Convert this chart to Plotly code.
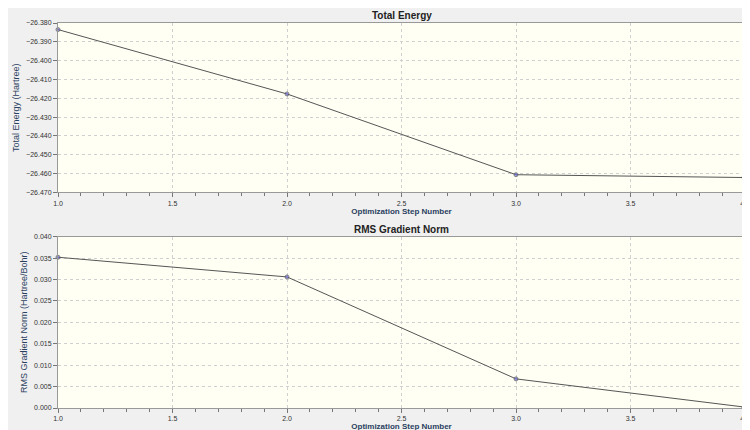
import plotly.graph_objects as go
from plotly.subplots import make_subplots

steps = [1, 2, 3, 4]
energy = [-26.3835, -26.4177, -26.4606, -26.4621]
rms = [0.0352, 0.0306, 0.0068, 0.0002]

fig = make_subplots(rows=2, cols=1, vertical_spacing=0.1)
mcol = ["#7070e0", "#7070e0", "#7070e0", "#d04060"]
for r, y in ((1, energy), (2, rms)):
    fig.add_trace(go.Scatter(x=steps, y=y, mode="lines+markers", cliponaxis=False,
        line=dict(color="#555555", width=1), marker=dict(color=mcol, size=[4, 4, 4, 6])), r, 1)

ax = dict(showgrid=True, gridcolor="#d0d0d0", griddash="dot", showline=True, linecolor="#999999",
          mirror=True, ticks="outside", tickcolor="#777777", ticklen=4, zeroline=False,
          tickfont=dict(size=7, family="Liberation Sans", color="#333333"))
xax = dict(ax, range=[1, 4], tickvals=[1, 1.5, 2, 2.5, 3, 3.5, 4], tickformat=".1f",
           minor=dict(ticks="outside", dtick=0.1, ticklen=3, tickcolor="#777777"),
           title=dict(text="<b>Optimization Step Number</b>", font=dict(size=8, family="Liberation Sans"), standoff=1))
fig.update_xaxes(**xax, row=1, col=1)
fig.update_xaxes(**xax, row=2, col=1)
fig.update_yaxes(**ax, range=[-26.47, -26.38], dtick=0.01, tickformat=".3f", domain=[0.56, 1],
    title=dict(text="Total Energy (Hartree)", font=dict(size=9, family="Liberation Sans"), standoff=4), row=1, col=1)
fig.update_yaxes(**ax, range=[0, 0.04], dtick=0.005, tickformat=".3f", domain=[0, 0.445],
    title=dict(text="RMS Gradient Norm (Hartree/Bohr)", font=dict(size=9, family="Liberation Sans"), standoff=4), row=2, col=1)

fig.update_layout(width=750, height=430, showlegend=False,
    paper_bgcolor="#f0f0f0", plot_bgcolor="#fffff4",
    margin=dict(l=38, r=8, t=15, b=30),
    annotations=[
        dict(text="<b>Total Energy</b>", x=0.5, y=1.0, xref="paper", yref="paper", yanchor="bottom", showarrow=False,
             font=dict(size=10, family="Liberation Sans", color="#222")),
        dict(text="<b>RMS Gradient Norm</b>", x=0.5, y=0.445, xref="paper", yref="paper", yanchor="bottom", showarrow=False,
             font=dict(size=10, family="Liberation Sans", color="#222")),
    ])
fig.write_html("out.html")
